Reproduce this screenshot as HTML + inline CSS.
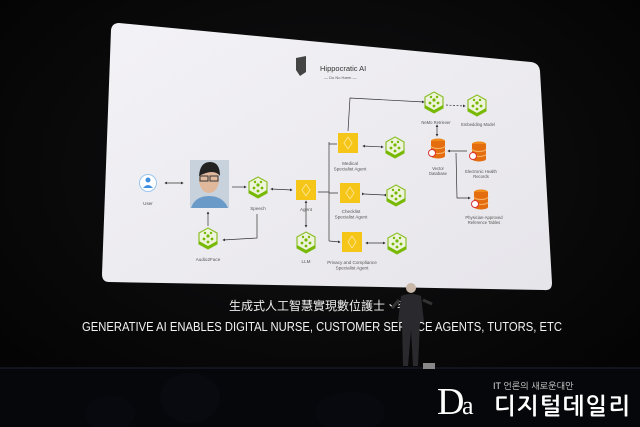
<!DOCTYPE html>
<html><head><meta charset="utf-8"><style>
html,body{margin:0;padding:0;background:#050505;width:640px;height:427px;overflow:hidden}
svg{display:block}
</style></head><body>
<svg width="640" height="427" viewBox="0 0 640 427" xmlns="http://www.w3.org/2000/svg" font-family="Liberation Sans, sans-serif">
<defs>
<radialGradient id="bg" cx="0.5" cy="0.4" r="0.7"><stop offset="0" stop-color="#121214"/><stop offset="1" stop-color="#030303"/></radialGradient>
<linearGradient id="scr" x1="0" y1="0" x2="1" y2="1"><stop offset="0" stop-color="#f3f2f6"/><stop offset="1" stop-color="#e6e5ea"/></linearGradient>
<g id="hex"><polygon points="0,-10 9,-5 9,6 0,11 -9,6 -9,-5" fill="#eef3dc" stroke="#8cbf2a" stroke-width="1.2"/><polygon points="-9,6 0,11 9,6 9,3 0,8 -9,3" fill="#76b900"/><circle cx="0" cy="-2" r="1.6" fill="#76b900"/><circle cx="-4" cy="1" r="1.4" fill="#76b900"/><circle cx="4" cy="1" r="1.4" fill="#76b900"/><circle cx="0" cy="4" r="1.4" fill="#76b900"/><circle cx="-3" cy="-5" r="1.2" fill="#76b900"/><circle cx="3" cy="-5" r="1.2" fill="#76b900"/></g>
<g id="sq"><rect x="-10" y="-10" width="20" height="20" fill="#f5c518"/><path d="M0,-6 L-4,0 L0,6 M0,-6 L4,0 L0,6" stroke="#fbe38a" stroke-width="1" fill="none"/></g>
<g id="db"><ellipse cx="0" cy="-7" rx="7" ry="2.5" fill="#f08a1c"/><rect x="-7" y="-7" width="14" height="15" fill="#e46d10"/><ellipse cx="0" cy="8" rx="7" ry="2.5" fill="#e46d10"/><path d="M-7,-2 A7,2.5 0 0 0 7,-2 M-7,3 A7,2.5 0 0 0 7,3" stroke="#f7b36a" fill="none"/><circle cx="-6" cy="5" r="3.5" fill="#fff" stroke="#d33" stroke-width="1"/></g>
<marker id="a" markerWidth="4" markerHeight="4" refX="3" refY="2" orient="auto"><path d="M0,0 L4,2 L0,4z" fill="#333"/></marker>
<marker id="b" markerWidth="4" markerHeight="4" refX="1" refY="2" orient="auto"><path d="M4,0 L0,2 L4,4z" fill="#333"/></marker>
</defs>
<rect width="640" height="427" fill="url(#bg)"/>
<path d="M119,23 L531,62 Q539,63 540,71 L552,283 Q552,291 544,290 L109,282 Q102,282 102,274 L111,30 Q112,23 119,23Z" fill="url(#scr)"/>
<path d="M296,58 L306,56 L306,72 L300,76 L296,70Z" fill="#444"/>
<text x="320" y="71" font-size="7.5" fill="#333">Hippocratic AI</text>
<text x="324" y="79" font-size="4" fill="#555">— Do No Harm —</text>
<g stroke="#333" stroke-width="0.7" fill="none">
<line x1="165" y1="183" x2="183" y2="183" marker-start="url(#b)" marker-end="url(#a)"/>
<line x1="232" y1="187" x2="246" y2="187" marker-end="url(#a)"/>
<line x1="271" y1="189" x2="292" y2="190" marker-start="url(#b)" marker-end="url(#a)"/>
<line x1="208" y1="226" x2="208" y2="212" marker-end="url(#a)"/>
<path d="M257,214 L257,238 L223,240" marker-end="url(#a)"/>
<line x1="306" y1="201" x2="306" y2="227" marker-start="url(#b)" marker-end="url(#a)"/>
<path d="M318,192 L329,192 M329,142 L329,241 M329,144 L337,144 M329,193 L338,193 M329,241 L340,242" marker-end="url(#a)"/>
<path d="M348,131 L350,98 L424,102" marker-end="url(#a)"/>
<line x1="363" y1="146" x2="383" y2="147" marker-start="url(#b)" marker-end="url(#a)"/>
<line x1="364" y1="194" x2="384" y2="195" marker-end="url(#b)" marker-start="url(#a)"/>
<line x1="366" y1="243" x2="385" y2="243" marker-start="url(#b)" marker-end="url(#a)"/>
<line x1="446" y1="105" x2="465" y2="106" stroke-dasharray="2,1.5" marker-end="url(#a)"/>
<line x1="437" y1="125" x2="437" y2="136" marker-start="url(#b)" marker-end="url(#a)"/>
<line x1="448" y1="151" x2="467" y2="151" marker-start="url(#b)"/>
<path d="M456,153 L457,198 L470,198" marker-end="url(#a)"/>
</g>
<g font-size="4.6" text-anchor="middle" fill="#555">
<circle cx="148" cy="183" r="8.5" fill="#fff" stroke="#9cc6ee"/><circle cx="148" cy="180" r="2.5" fill="#3d8fe0"/><path d="M143,188 Q148,182 153,188Z" fill="#3d8fe0"/>
<text x="148" y="205">User</text>
<rect x="190" y="160" width="39" height="48" fill="#c8d2dc"/><ellipse cx="209" cy="180" rx="10" ry="13" fill="#e0b89c"/><path d="M199,176 Q200,162 210,162 Q220,162 220,176 Q214,168 199,176Z" fill="#222"/><rect x="200" y="176" width="8" height="5" fill="none" stroke="#333"/><rect x="210" y="176" width="8" height="5" fill="none" stroke="#333"/><path d="M191,208 Q195,196 209,196 Q223,196 228,208Z" fill="#6a9ac8"/>
<use href="#hex" x="258" y="187"/><text x="258" y="210">Speech</text>
<use href="#sq" x="306" y="190"/><text x="306" y="211">Agent</text>
<use href="#hex" x="306" y="242"/><text x="306" y="263">LLM</text>
<use href="#hex" x="208" y="238"/><text x="208" y="261">Audio2Face</text>
<use href="#sq" x="348" y="143"/><text x="350" y="165">Medical</text><text x="350" y="170.5">Specialist Agent</text>
<use href="#sq" x="350" y="193"/><text x="351" y="213">Checklist</text><text x="351" y="218.5">Specialist Agent</text>
<use href="#sq" x="352" y="242"/><text x="352" y="264">Privacy and Compliance</text><text x="352" y="269.5">Specialist Agent</text>
<use href="#hex" x="395" y="147"/><use href="#hex" x="396" y="195"/><use href="#hex" x="397" y="243"/>
<use href="#hex" x="434" y="102"/><text x="436" y="124" font-size="4.2">NeMo Retriever</text>
<use href="#hex" x="477" y="105"/><text x="478" y="126" font-size="4.2">Embedding Model</text>
<use href="#db" x="438" y="148"/><text x="438" y="170" font-size="4.2">Vector</text><text x="438" y="175" font-size="4.2">Database</text>
<use href="#db" x="479" y="151"/><text x="481" y="173" font-size="4.2">Electronic Health</text><text x="481" y="178" font-size="4.2">Records</text>
<use href="#db" x="481" y="199"/><text x="484" y="219" font-size="4.2">Physician-Approved</text><text x="484" y="224" font-size="4.2">Reference Tables</text>
</g>
<text x="325" y="310" font-size="12" text-anchor="middle" fill="#eee" font-family="Liberation Sans, Noto Sans CJK TC, sans-serif">生成式人工智慧實現數位護士、客服</text>
<text x="82" y="331" font-size="12.6" fill="#f2f2f2" textLength="480" lengthAdjust="spacingAndGlyphs">GENERATIVE AI ENABLES DIGITAL NURSE, CUSTOMER SERVICE AGENTS, TUTORS, ETC</text>
<rect x="0" y="368" width="640" height="59" fill="#06070a"/>
<line x1="0" y1="368" x2="640" y2="368" stroke="#161924" stroke-width="1.5"/>
<ellipse cx="190" cy="398" rx="30" ry="25" fill="#090a10"/>
<ellipse cx="110" cy="414" rx="25" ry="18" fill="#08090e"/>
<ellipse cx="350" cy="412" rx="35" ry="20" fill="#08090f"/>
<circle cx="411" cy="288" r="5" fill="#c9b8a8"/>
<path d="M401,296 Q411,292 421,296 L424,322 L420,322 L418,366 L413,366 L411,330 L408,366 L403,366 L402,322 L398,322Z" fill="#2a2a2e"/>
<path d="M399,300 L392,308 M423,300 L432,304" stroke="#333" stroke-width="3"/>
<rect x="423" y="363" width="12" height="6" fill="#888"/>
<text x="437" y="414" font-size="38" fill="#fff" font-family="Liberation Serif, serif">D</text>
<text x="462" y="414" font-size="26" fill="#fff" font-family="Liberation Serif, serif">a</text>
<text x="493" y="389" font-size="9" fill="#ddd" font-family="Liberation Sans, NanumGothic, sans-serif">IT 언론의 새로운대안</text>
<text x="494" y="414" font-size="23" fill="#fff" font-weight="bold" font-family="NanumGothic, Noto Sans CJK KR, sans-serif" textLength="136">디지털데일리</text>
</svg>
</body></html>
